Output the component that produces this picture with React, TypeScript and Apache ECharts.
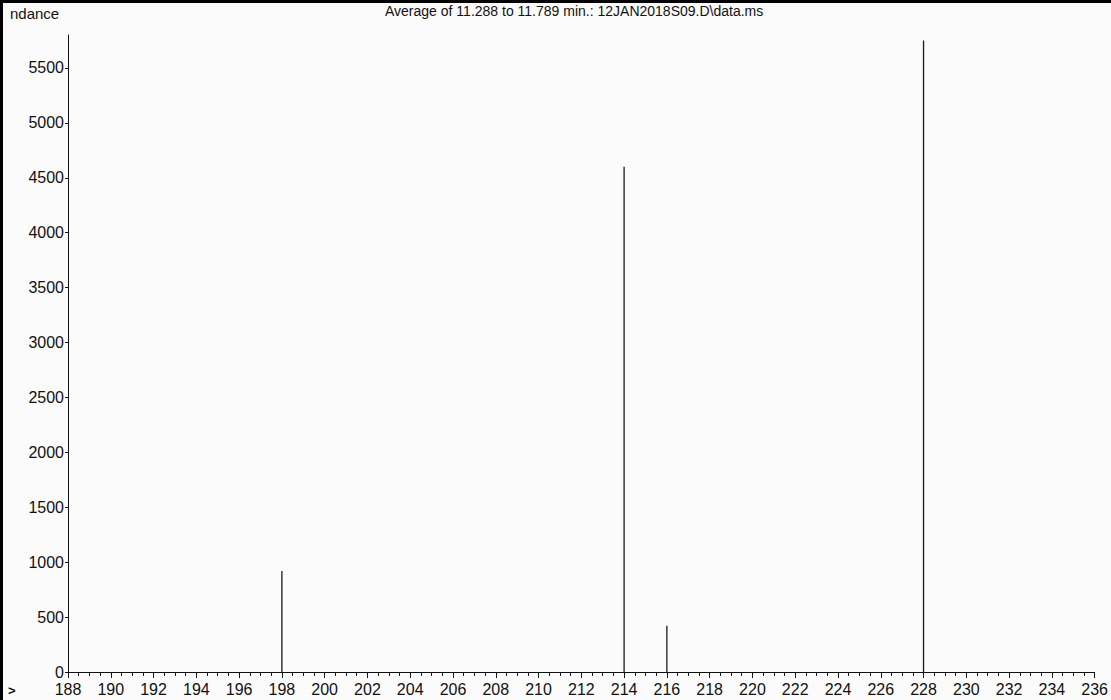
import React, { useEffect, useRef } from "react";
import * as echarts from "echarts";

const titleText = "Average of 11.288 to 11.789 min.: 12JAN2018S09.D\\data.ms";
const yAxisLabel = "ndance";
const mzValues = [198, 214, 216, 228];
const abundances = [920, 4600, 420, 5750];
const xMin = 188;
const xMax = 236;
const yMax = 5800;
const yInterval = 500;
const xInterval = 2;

export default function App() {
  const ref = useRef<HTMLDivElement>(null);
  useEffect(() => {
    document.body.style.margin = "0";
    const chart = echarts.init(ref.current!, null, { renderer: "svg" });
    const font = "Liberation Sans, Arial, sans-serif";
    chart.setOption({
      animation: false,
      backgroundColor: "#fbfbfb",
      grid: { left: 68, right: 4, top: 35, bottom: 28, containLabel: false },
      xAxis: {
        type: "value",
        min: xMin,
        max: xMax,
        interval: xInterval,
        axisLine: { show: true, lineStyle: { color: "#111", width: 1 } },
        axisTick: { show: true, length: 6, lineStyle: { color: "#111" } },
        minorTick: { show: true, splitNumber: 4, length: 4, lineStyle: { color: "#111" } },
        splitLine: { show: false },
        axisLabel: {
          color: "#111",
          fontSize: 16,
          fontFamily: font,
          margin: 9,
          showMaxLabel: true,
          formatter: (v: number) => String(v),
        },
      },
      yAxis: {
        type: "value",
        min: 0,
        max: yMax,
        interval: yInterval,
        axisLine: { show: true, lineStyle: { color: "#111", width: 1 } },
        axisTick: { show: true, length: 3, lineStyle: { color: "#111" } },
        splitLine: { show: false },
        axisLabel: {
          color: "#111",
          fontSize: 16,
          fontFamily: font,
          margin: 4,
          showMaxLabel: false,
          formatter: (v: number) => String(v),
        },
      },
      series: [
        {
          type: "bar",
          barWidth: 1.3,
          itemStyle: { color: "#1a1a1a" },
          data: mzValues.map((m, i) => [m, abundances[i]]),
        },
      ],
      graphic: [
        { type: "rect", shape: { x: 0, y: 0, width: 1111, height: 3 }, style: { fill: "#000" } },
        { type: "rect", shape: { x: 0, y: 0, width: 3, height: 700 }, style: { fill: "#000" } },
        {
          type: "text",
          left: 385,
          top: 4,
          style: { text: titleText, fill: "#111", font: `14px ${font}` },
        },
        {
          type: "text",
          left: 10,
          top: 6,
          style: { text: yAxisLabel, fill: "#111", font: `15px ${font}` },
        },
        {
          type: "text",
          left: 8,
          top: 684,
          style: { text: ">", fill: "#111", font: `bold 13px ${font}` },
        },
      ],
    });
    return () => chart.dispose();
  }, []);
  return <div ref={ref} style={{ position: "absolute", left: 0, top: 0, width: 1111, height: 700 }} />;
}
